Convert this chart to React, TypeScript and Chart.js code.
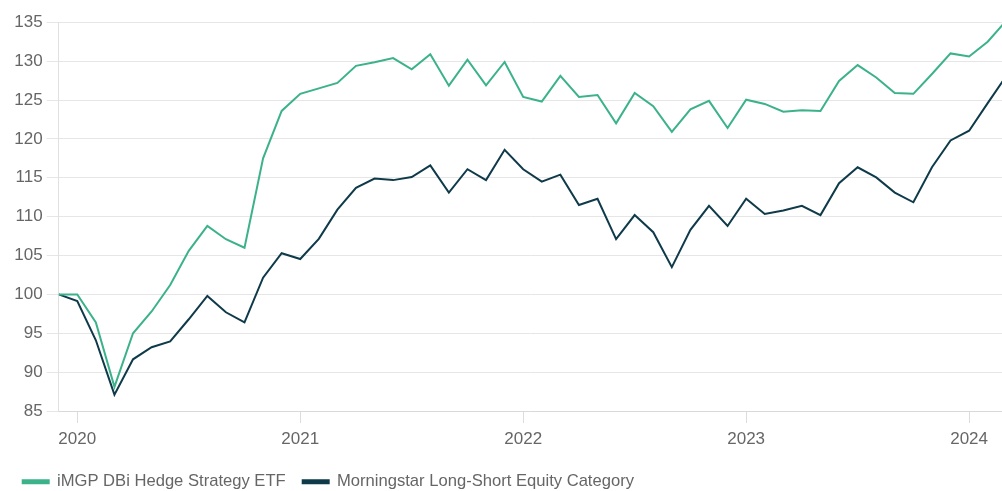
import React, { useEffect, useRef } from "react";
import { Chart, registerables } from "chart.js";

Chart.register(...registerables);

// Month-end dates, Dec 2019 .. Mar 2024
const months: string[] = [
  "2019-12",
  "2020-01", "2020-02", "2020-03", "2020-04", "2020-05", "2020-06", "2020-07", "2020-08", "2020-09", "2020-10", "2020-11", "2020-12",
  "2021-01", "2021-02", "2021-03", "2021-04", "2021-05", "2021-06", "2021-07", "2021-08", "2021-09", "2021-10", "2021-11", "2021-12",
  "2022-01", "2022-02", "2022-03", "2022-04", "2022-05", "2022-06", "2022-07", "2022-08", "2022-09", "2022-10", "2022-11", "2022-12",
  "2023-01", "2023-02", "2023-03", "2023-04", "2023-05", "2023-06", "2023-07", "2023-08", "2023-09", "2023-10", "2023-11", "2023-12",
  "2024-01", "2024-02", "2024-03",
];

const etfValues: number[] = [
  100.0, 100.0, 96.4, 88.1, 95.0, 97.8, 101.2, 105.6, 108.8, 107.1, 106.0, 117.5, 123.6,
  125.8, 126.5, 127.2, 129.4, 129.85, 130.4, 128.95, 130.9, 126.85, 130.2, 126.9, 129.9,
  125.4, 124.8, 128.1, 125.4, 125.65, 122.0, 125.9, 124.2, 120.9, 123.8, 124.9, 121.4,
  125.05, 124.5, 123.5, 123.7, 123.6, 127.45, 129.5, 127.9, 125.9, 125.8, 128.35, 131.0,
  130.6, 132.5, 135.2,
];

const categoryValues: number[] = [
  100.0, 99.15, 94.1, 87.1, 91.65, 93.2, 93.95, 96.8, 99.8, 97.7, 96.4, 102.15, 105.3,
  104.55, 107.15, 110.9, 113.7, 114.9, 114.7, 115.1, 116.6, 113.1, 116.1, 114.7, 118.6,
  116.1, 114.5, 115.4, 111.5, 112.3, 107.1, 110.2, 108.0, 103.5, 108.3, 111.4, 108.8,
  112.3, 110.35, 110.8, 111.4, 110.2, 114.3, 116.35, 115.05, 113.1, 111.85, 116.35, 119.8,
  121.05, 124.6, 128.1,
];

const seriesNames: string[] = [
  "iMGP DBi Hedge Strategy ETF",
  "Morningstar Long-Short Equity Category",
];

const yTicks: number[] = [85, 90, 95, 100, 105, 110, 115, 120, 125, 130, 135];

const FONT = "'Liberation Sans', Arial, Helvetica, sans-serif";
const GREEN = "#3cb28a";
const DARK = "#0e3a4a";

export default function App() {
  const canvasRef = useRef<HTMLCanvasElement | null>(null);

  useEffect(() => {
    if (!canvasRef.current) return;
    const yearTicks = months
      .map((m, i) => ({ m, i }))
      .filter((o) => o.m.endsWith("-01"))
      .map((o) => ({ value: o.i, label: o.m.slice(0, 4) }));

    const chart = new Chart(canvasRef.current, {
      type: "line",
      data: {
        datasets: [
          {
            label: seriesNames[0],
            data: etfValues.map((v, i) => ({ x: i, y: v })),
            borderColor: GREEN,
            backgroundColor: GREEN,
            borderWidth: 2,
            pointRadius: 0,
            tension: 0,
          },
          {
            label: seriesNames[1],
            data: categoryValues.map((v, i) => ({ x: i, y: v })),
            borderColor: DARK,
            backgroundColor: DARK,
            borderWidth: 2,
            pointRadius: 0,
            tension: 0,
          },
        ],
      },
      options: {
        animation: false,
        responsive: true,
        maintainAspectRatio: false,
        layout: { padding: { left: 5.7, top: 22.3, right: 0, bottom: 0 } },
        plugins: {
          tooltip: { enabled: false },
          legend: {
            position: "bottom",
            align: "start",
            labels: {
              boxWidth: 26,
              boxHeight: 3,
              padding: 17,
              color: "#666",
              font: { family: FONT, size: 16.6 },
            },
          },
        },
        scales: {
          x: {
            type: "linear",
            min: 0,
            max: 50.77,
            afterBuildTicks: (scale: any) => {
              scale.ticks = yearTicks.map((t) => ({ value: t.value }));
            },
            afterFit: (scale: any) => {
              scale.height = 45.4;
            },
            ticks: {
              autoSkip: false,
              maxRotation: 0,
              padding: 6,
              color: "#666",
              font: { family: FONT, size: 17 },
              callback: (value: any) => {
                const t = yearTicks.find((o) => o.value === value);
                return t ? t.label : "";
              },
            },
            grid: {
              drawOnChartArea: false,
              drawTicks: true,
              tickLength: 12,
              color: "#dcdcdc",
            },
            border: { display: true, color: "#d9d9d9", width: 1 },
          },
          y: {
            min: 85,
            max: 135,
            afterBuildTicks: (scale: any) => {
              scale.ticks = yTicks.map((v) => ({ value: v }));
            },
            afterFit: (scale: any) => {
              scale.width = 53;
            },
            ticks: {
              padding: 4,
              color: "#666",
              font: { family: FONT, size: 17 },
            },
            grid: {
              color: "#e6e6e6",
              tickLength: 12,
              lineWidth: 1,
            },
            border: { display: true, color: "#e0e0e0", width: 1 },
          },
        },
      },
    });
    return () => chart.destroy();
  }, []);

  return (
    <div style={{ position: "fixed", left: 0, top: 0, width: 1002, height: 500 }}>
      <canvas ref={canvasRef} />
    </div>
  );
}
